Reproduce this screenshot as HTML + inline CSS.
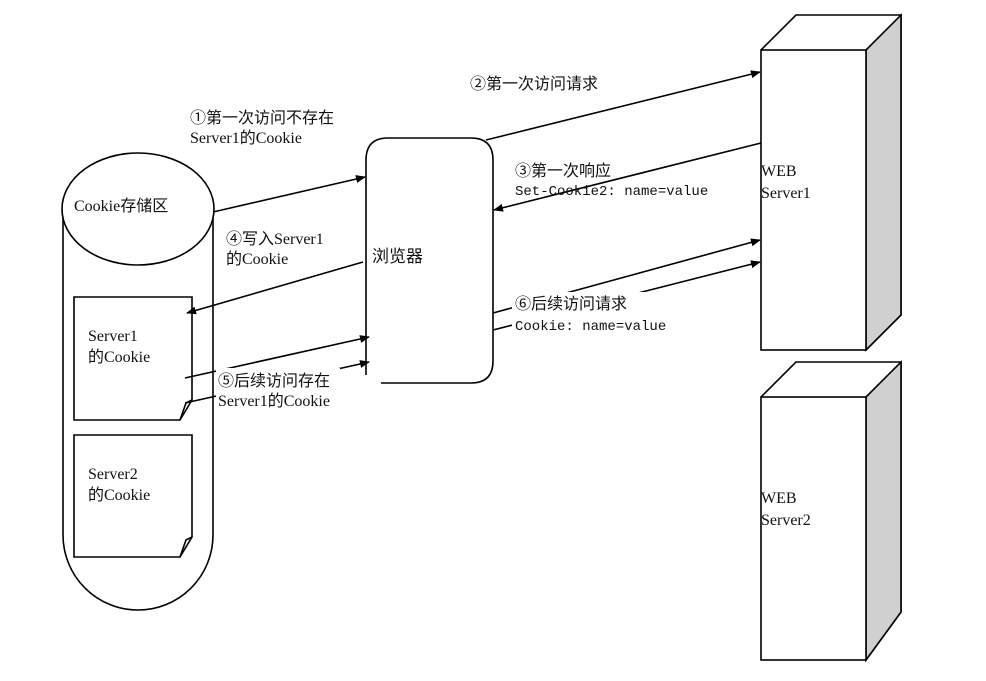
<!DOCTYPE html>
<html><head><meta charset="utf-8"><style>
body{margin:0;background:#fff;}
svg text{font-family:"Liberation Serif","Noto Sans CJK SC",serif;font-size:16px;fill:#111;}
.m{font-family:"Liberation Mono","Noto Sans CJK SC",monospace;font-size:14px;}
</style></head><body>
<svg width="986" height="676" viewBox="0 0 986 676" xmlns="http://www.w3.org/2000/svg">
<defs><marker id="a" markerWidth="10" markerHeight="8" refX="9" refY="4" orient="auto" markerUnits="userSpaceOnUse"><path d="M0,0 L10,4 L0,8 z" fill="#000"/></marker></defs>
<g stroke="#000" stroke-width="1.6" fill="none">
<path d="M63,210 L63,535 A75,75 0 0 0 213,535 L213,210"/>
<ellipse cx="138" cy="209" rx="76" ry="56" fill="#fff"/>
<path d="M74,297 H192 V400 L180,420 H74 Z" fill="#fff"/>
<path d="M192,400 L186,403 L180,420" />
<path d="M74,435 H192 V537 L180,557 H74 Z" fill="#fff"/>
<path d="M192,537 L186,540 L180,557"/>
<path d="M366,375 V160 Q366,138 388,138 H471 Q493,138 493,160 V361 Q493,383 471,383 H381"/>
<path d="M761,50 L796,15 H901 V315 L866,350" fill="#fff"/>
<path d="M866,50 L901,15 V315 L866,350 Z" fill="#d0d0d0"/>
<rect x="761" y="50" width="105" height="300" fill="#fff"/>
<path d="M761,397 L796,362 H901 V612 L866,660" fill="#fff"/>
<path d="M866,397 L901,362 V612 L866,660 Z" fill="#d0d0d0"/>
<rect x="761" y="397" width="105" height="263" fill="#fff"/>
<line x1="213" y1="212" x2="365" y2="177" marker-end="url(#a)"/>
<line x1="363" y1="262" x2="187" y2="313" marker-end="url(#a)"/>
<line x1="185" y1="378" x2="369" y2="337" marker-end="url(#a)"/>
<line x1="185" y1="403" x2="369" y2="362" marker-end="url(#a)"/>
<line x1="486" y1="140" x2="760" y2="72" marker-end="url(#a)"/>
<line x1="761" y1="143" x2="494" y2="210" marker-end="url(#a)"/>
<line x1="493" y1="313" x2="760" y2="240" marker-end="url(#a)"/>
<line x1="493" y1="330" x2="760" y2="262" marker-end="url(#a)"/>
</g>
<g fill="#fff">
<rect x="216" y="368" width="124" height="38"/>
<rect x="512" y="292" width="160" height="40"/>
</g>
<text x="190" y="123">①第一次访问不存在</text>
<text x="190" y="143">Server1的Cookie</text>
<text x="470" y="89">②第一次访问请求</text>
<text x="515" y="176">③第一次响应</text>
<text class="m" x="515" y="195">Set-Cookie2: name=value</text>
<text x="226" y="244">④写入Server1</text>
<text x="226" y="264">的Cookie</text>
<text x="218" y="386">⑤后续访问存在</text>
<text x="218" y="406">Server1的Cookie</text>
<text x="515" y="309">⑥后续访问请求</text>
<text class="m" x="515" y="330">Cookie: name=value</text>
<text x="372" y="262" style="font-size:17px">浏览器</text>
<text x="74" y="211">Cookie存储区</text>
<text x="88" y="341">Server1</text>
<text x="88" y="362">的Cookie</text>
<text x="88" y="479">Server2</text>
<text x="88" y="500">的Cookie</text>
<text x="761" y="176">WEB</text>
<text x="761" y="198">Server1</text>
<text x="761" y="503">WEB</text>
<text x="761" y="525">Server2</text>
</svg>
</body></html>
